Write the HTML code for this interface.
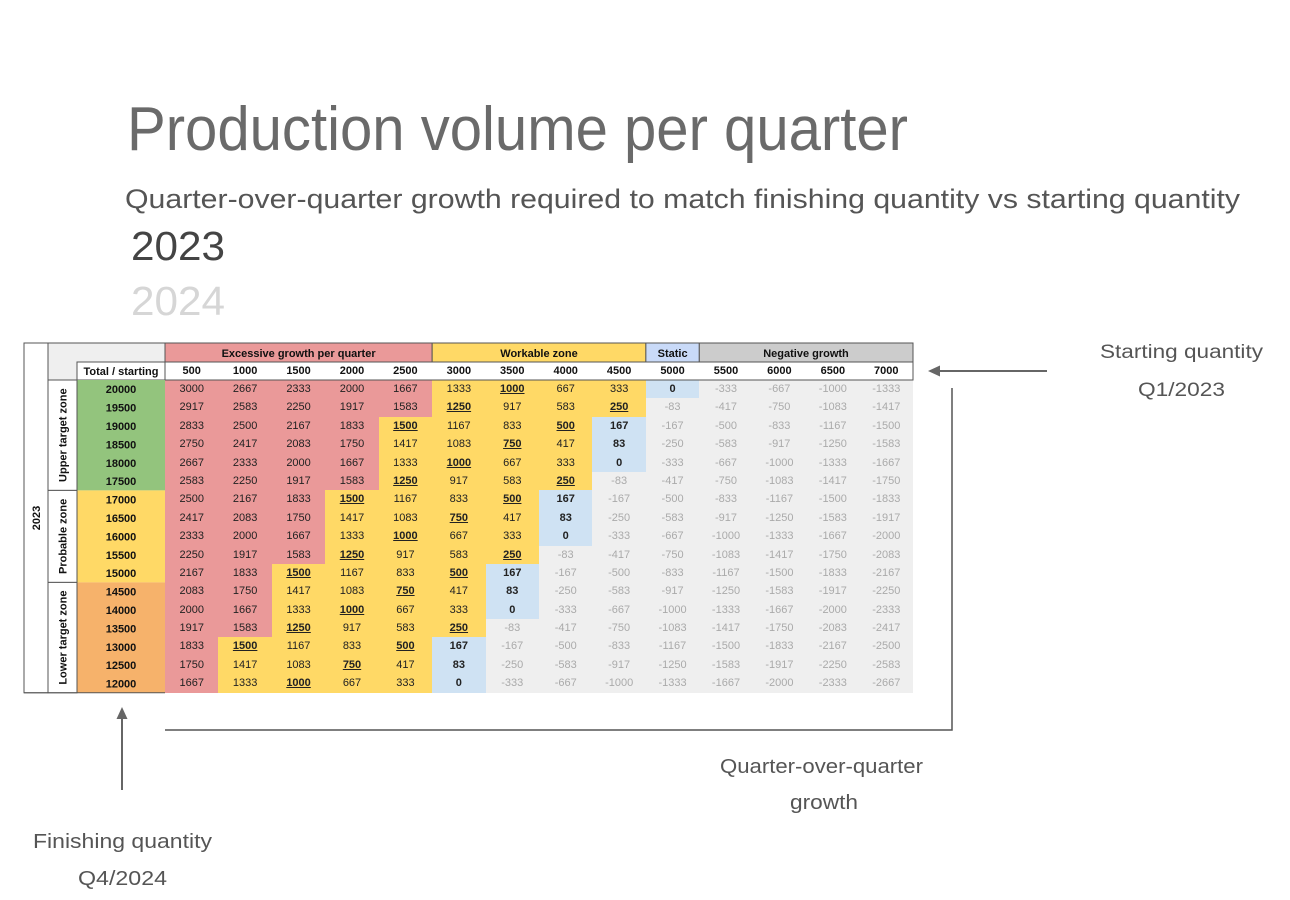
<!DOCTYPE html>
<html><head><meta charset="utf-8">
<style>
html,body{margin:0;padding:0;}
body{width:1290px;height:900px;background:#fff;position:relative;overflow:hidden;font-family:"Liberation Sans",Arial,sans-serif;}
#grid{position:absolute;left:165px;top:362px;width:748px;display:grid;grid-template-columns:repeat(14,1fr);grid-template-rows:18px repeat(17,18.4px);font-size:11px;color:#222;}
#grid i{font-style:normal;text-align:center;line-height:18.4px;white-space:nowrap;}
#grid i.h{background:#fff;font-weight:bold;line-height:18px;color:#111;}
#grid i.r{background:#ea9999;}
#grid i.y{background:#ffd966;}
#grid i.b{background:#cfe2f3;font-weight:bold;}
#grid i.g{background:#efefef;color:#aaa;}
#grid i.u{font-weight:bold;text-decoration:underline;}
svg{position:absolute;left:0;top:0;}
</style></head><body>
<div id="grid">
<i class="h">500</i><i class="h">1000</i><i class="h">1500</i><i class="h">2000</i><i class="h">2500</i><i class="h">3000</i><i class="h">3500</i><i class="h">4000</i><i class="h">4500</i><i class="h">5000</i><i class="h">5500</i><i class="h">6000</i><i class="h">6500</i><i class="h">7000</i>
<i class="r">3000</i><i class="r">2667</i><i class="r">2333</i><i class="r">2000</i><i class="r">1667</i><i class="y">1333</i><i class="y u">1000</i><i class="y">667</i><i class="y">333</i><i class="b">0</i><i class="g">-333</i><i class="g">-667</i><i class="g">-1000</i><i class="g">-1333</i>
<i class="r">2917</i><i class="r">2583</i><i class="r">2250</i><i class="r">1917</i><i class="r">1583</i><i class="y u">1250</i><i class="y">917</i><i class="y">583</i><i class="y u">250</i><i class="g">-83</i><i class="g">-417</i><i class="g">-750</i><i class="g">-1083</i><i class="g">-1417</i>
<i class="r">2833</i><i class="r">2500</i><i class="r">2167</i><i class="r">1833</i><i class="y u">1500</i><i class="y">1167</i><i class="y">833</i><i class="y u">500</i><i class="b">167</i><i class="g">-167</i><i class="g">-500</i><i class="g">-833</i><i class="g">-1167</i><i class="g">-1500</i>
<i class="r">2750</i><i class="r">2417</i><i class="r">2083</i><i class="r">1750</i><i class="y">1417</i><i class="y">1083</i><i class="y u">750</i><i class="y">417</i><i class="b">83</i><i class="g">-250</i><i class="g">-583</i><i class="g">-917</i><i class="g">-1250</i><i class="g">-1583</i>
<i class="r">2667</i><i class="r">2333</i><i class="r">2000</i><i class="r">1667</i><i class="y">1333</i><i class="y u">1000</i><i class="y">667</i><i class="y">333</i><i class="b">0</i><i class="g">-333</i><i class="g">-667</i><i class="g">-1000</i><i class="g">-1333</i><i class="g">-1667</i>
<i class="r">2583</i><i class="r">2250</i><i class="r">1917</i><i class="r">1583</i><i class="y u">1250</i><i class="y">917</i><i class="y">583</i><i class="y u">250</i><i class="g">-83</i><i class="g">-417</i><i class="g">-750</i><i class="g">-1083</i><i class="g">-1417</i><i class="g">-1750</i>
<i class="r">2500</i><i class="r">2167</i><i class="r">1833</i><i class="y u">1500</i><i class="y">1167</i><i class="y">833</i><i class="y u">500</i><i class="b">167</i><i class="g">-167</i><i class="g">-500</i><i class="g">-833</i><i class="g">-1167</i><i class="g">-1500</i><i class="g">-1833</i>
<i class="r">2417</i><i class="r">2083</i><i class="r">1750</i><i class="y">1417</i><i class="y">1083</i><i class="y u">750</i><i class="y">417</i><i class="b">83</i><i class="g">-250</i><i class="g">-583</i><i class="g">-917</i><i class="g">-1250</i><i class="g">-1583</i><i class="g">-1917</i>
<i class="r">2333</i><i class="r">2000</i><i class="r">1667</i><i class="y">1333</i><i class="y u">1000</i><i class="y">667</i><i class="y">333</i><i class="b">0</i><i class="g">-333</i><i class="g">-667</i><i class="g">-1000</i><i class="g">-1333</i><i class="g">-1667</i><i class="g">-2000</i>
<i class="r">2250</i><i class="r">1917</i><i class="r">1583</i><i class="y u">1250</i><i class="y">917</i><i class="y">583</i><i class="y u">250</i><i class="g">-83</i><i class="g">-417</i><i class="g">-750</i><i class="g">-1083</i><i class="g">-1417</i><i class="g">-1750</i><i class="g">-2083</i>
<i class="r">2167</i><i class="r">1833</i><i class="y u">1500</i><i class="y">1167</i><i class="y">833</i><i class="y u">500</i><i class="b">167</i><i class="g">-167</i><i class="g">-500</i><i class="g">-833</i><i class="g">-1167</i><i class="g">-1500</i><i class="g">-1833</i><i class="g">-2167</i>
<i class="r">2083</i><i class="r">1750</i><i class="y">1417</i><i class="y">1083</i><i class="y u">750</i><i class="y">417</i><i class="b">83</i><i class="g">-250</i><i class="g">-583</i><i class="g">-917</i><i class="g">-1250</i><i class="g">-1583</i><i class="g">-1917</i><i class="g">-2250</i>
<i class="r">2000</i><i class="r">1667</i><i class="y">1333</i><i class="y u">1000</i><i class="y">667</i><i class="y">333</i><i class="b">0</i><i class="g">-333</i><i class="g">-667</i><i class="g">-1000</i><i class="g">-1333</i><i class="g">-1667</i><i class="g">-2000</i><i class="g">-2333</i>
<i class="r">1917</i><i class="r">1583</i><i class="y u">1250</i><i class="y">917</i><i class="y">583</i><i class="y u">250</i><i class="g">-83</i><i class="g">-417</i><i class="g">-750</i><i class="g">-1083</i><i class="g">-1417</i><i class="g">-1750</i><i class="g">-2083</i><i class="g">-2417</i>
<i class="r">1833</i><i class="y u">1500</i><i class="y">1167</i><i class="y">833</i><i class="y u">500</i><i class="b">167</i><i class="g">-167</i><i class="g">-500</i><i class="g">-833</i><i class="g">-1167</i><i class="g">-1500</i><i class="g">-1833</i><i class="g">-2167</i><i class="g">-2500</i>
<i class="r">1750</i><i class="y">1417</i><i class="y">1083</i><i class="y u">750</i><i class="y">417</i><i class="b">83</i><i class="g">-250</i><i class="g">-583</i><i class="g">-917</i><i class="g">-1250</i><i class="g">-1583</i><i class="g">-1917</i><i class="g">-2250</i><i class="g">-2583</i>
<i class="r">1667</i><i class="y">1333</i><i class="y u">1000</i><i class="y">667</i><i class="y">333</i><i class="b">0</i><i class="g">-333</i><i class="g">-667</i><i class="g">-1000</i><i class="g">-1333</i><i class="g">-1667</i><i class="g">-2000</i><i class="g">-2333</i><i class="g">-2667</i>
</div>

<svg width="1290" height="900" viewBox="0 0 1290 900" xmlns="http://www.w3.org/2000/svg" font-family="Liberation Sans, Arial, sans-serif">
  <!-- Titles -->
  <text x="127" y="150" font-size="62" fill="#6a6a6a" textLength="781" lengthAdjust="spacingAndGlyphs">Production volume per quarter</text>
  <text x="125" y="208" font-size="27" fill="#555" textLength="1115" lengthAdjust="spacingAndGlyphs">Quarter-over-quarter growth required to match finishing quantity vs starting quantity</text>
  <text x="131" y="260" font-size="41" fill="#444" textLength="94" lengthAdjust="spacingAndGlyphs">2023</text>
  <text x="131" y="315" font-size="41" fill="#d6d6d6" textLength="94" lengthAdjust="spacingAndGlyphs">2024</text>

  <!-- Annotations -->
  <text x="1100" y="358" font-size="19" fill="#555" textLength="163" lengthAdjust="spacingAndGlyphs">Starting quantity</text>
  <text x="1138" y="396" font-size="19" fill="#555" textLength="87" lengthAdjust="spacingAndGlyphs">Q1/2023</text>
  <text x="33" y="848" font-size="20" fill="#555" textLength="179" lengthAdjust="spacingAndGlyphs">Finishing quantity</text>
  <text x="78" y="885" font-size="20" fill="#555" textLength="89" lengthAdjust="spacingAndGlyphs">Q4/2024</text>
  <text x="720" y="773" font-size="20" fill="#555" textLength="203" lengthAdjust="spacingAndGlyphs">Quarter-over-quarter</text>
  <text x="790" y="809" font-size="20" fill="#555" textLength="68" lengthAdjust="spacingAndGlyphs">growth</text>

  <!-- Arrows and bracket -->
  <line x1="1047" y1="371" x2="938" y2="371" stroke="#666" stroke-width="2"/>
  <polygon points="928,371 940,365.5 940,376.5" fill="#666"/>
  <line x1="122" y1="790" x2="122" y2="717" stroke="#666" stroke-width="2"/>
  <polygon points="122,707 116.5,719 127.5,719" fill="#666"/>
  <polyline points="165,730 952,730 952,388" fill="none" stroke="#555" stroke-width="1.5"/>

  <!-- Left header block -->
  <rect x="48" y="343" width="117" height="37" fill="#efefef" stroke="#555" stroke-width="1"/>
  <rect x="77" y="362" width="88" height="18" fill="#fff" stroke="#555" stroke-width="1"/>
  <text x="121" y="375" font-size="11" font-weight="bold" fill="#111" text-anchor="middle">Total / starting</text>

  <!-- Category headers -->
  <rect x="165" y="343" width="267.15" height="19" fill="#ea9999" stroke="#555" stroke-width="1"/>
  <rect x="432.15" y="343" width="213.72" height="19" fill="#ffd966" stroke="#555" stroke-width="1"/>
  <rect x="645.87" y="343" width="53.43" height="19" fill="#c9daf8" stroke="#555" stroke-width="1"/>
  <rect x="699.3" y="343" width="213.7" height="19" fill="#cccccc" stroke="#555" stroke-width="1"/>
  <g font-size="11" font-weight="bold" fill="#111" text-anchor="middle">
    <text x="298.6" y="357">Excessive growth per quarter</text>
    <text x="539" y="357">Workable zone</text>
    <text x="672.6" y="357">Static</text>
    <text x="806" y="357">Negative growth</text>
  </g>
  <!-- header row 2 border -->
  <rect x="165" y="362" width="748" height="18" fill="none" stroke="#555" stroke-width="1"/>

  <!-- Total column backgrounds -->
  <rect x="77" y="380" width="88" height="110.4" fill="#93c47d"/>
  <rect x="77" y="490.4" width="88" height="92" fill="#ffd966"/>
  <rect x="77" y="582.4" width="88" height="110.4" fill="#f6b26b"/>

  <!-- Left structure -->
  <rect x="24" y="343" width="24" height="349.8" fill="#fff" stroke="#555" stroke-width="1"/>
  <rect x="48" y="380" width="29" height="110.4" fill="#fff" stroke="#555" stroke-width="1"/>
  <rect x="48" y="490.4" width="29" height="92" fill="#fff" stroke="#555" stroke-width="1"/>
  <rect x="48" y="582.4" width="29" height="110.4" fill="#fff" stroke="#555" stroke-width="1"/>
  <line x1="24" y1="692.8" x2="165" y2="692.8" stroke="#555" stroke-width="1"/>

  <g font-size="11" font-weight="bold" fill="#111" text-anchor="middle">
    <text transform="translate(40,518) rotate(-90)">2023</text>
    <text transform="translate(66.5,435.2) rotate(-90)">Upper target zone</text>
    <text transform="translate(66.5,536.4) rotate(-90)">Probable zone</text>
    <text transform="translate(66.5,637.6) rotate(-90)">Lower target zone</text>
  </g>

  <g font-size="11" font-weight="bold" fill="#111" text-anchor="middle">
    <text x="121" y="393.2">20000</text>
    <text x="121" y="411.6">19500</text>
    <text x="121" y="430">19000</text>
    <text x="121" y="448.4">18500</text>
    <text x="121" y="466.8">18000</text>
    <text x="121" y="485.2">17500</text>
    <text x="121" y="503.6">17000</text>
    <text x="121" y="522">16500</text>
    <text x="121" y="540.4">16000</text>
    <text x="121" y="558.8">15500</text>
    <text x="121" y="577.2">15000</text>
    <text x="121" y="595.6">14500</text>
    <text x="121" y="614">14000</text>
    <text x="121" y="632.4">13500</text>
    <text x="121" y="650.8">13000</text>
    <text x="121" y="669.2">12500</text>
    <text x="121" y="687.6">12000</text>
  </g>
</svg>
</body></html>
